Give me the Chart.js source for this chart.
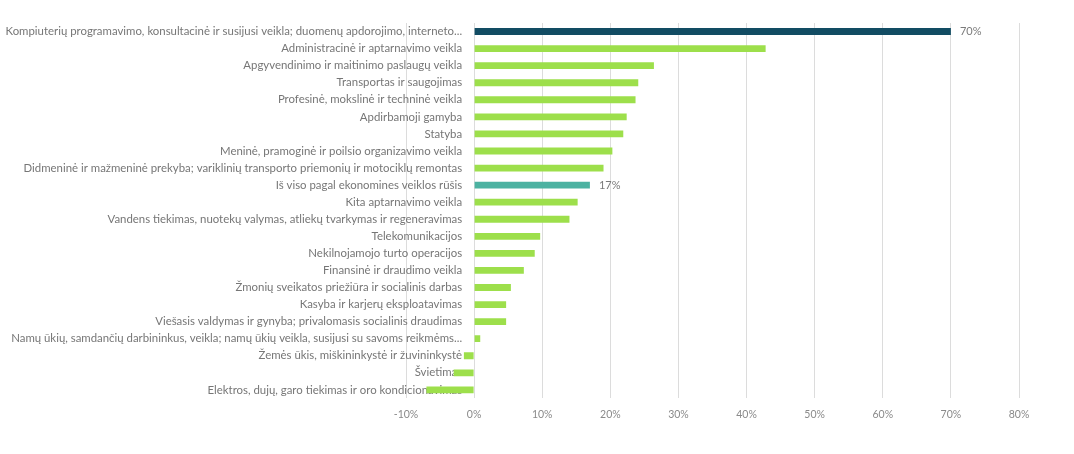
<!DOCTYPE html>
<html>
<head>
<meta charset="utf-8">
<script src="https://cdn.jsdelivr.net/npm/chart.js@4"></script>
<style>
  body{ margin:0; background:#fff; }
</style>
</head>
<body>
<canvas id="myChart" width="1074" height="454"></canvas>
<script>
// veiklos rūšys (iš viršaus į apačią)
const labels = [
  'Kompiuterių programavimo, konsultacinė ir susijusi veikla; duomenų apdorojimo, interneto...',
  'Administracinė ir aptarnavimo veikla',
  'Apgyvendinimo ir maitinimo paslaugų veikla',
  'Transportas ir saugojimas',
  'Profesinė, mokslinė ir techninė veikla',
  'Apdirbamoji gamyba',
  'Statyba',
  'Meninė, pramoginė ir poilsio organizavimo veikla',
  'Didmeninė ir mažmeninė prekyba; variklinių transporto priemonių ir motociklų remontas',
  'Iš viso pagal ekonomines veiklos rūšis',
  'Kita aptarnavimo veikla',
  'Vandens tiekimas, nuotekų valymas, atliekų tvarkymas ir regeneravimas',
  'Telekomunikacijos',
  'Nekilnojamojo turto operacijos',
  'Finansinė ir draudimo veikla',
  'Žmonių sveikatos priežiūra ir socialinis darbas',
  'Kasyba ir karjerų eksploatavimas',
  'Viešasis valdymas ir gynyba; privalomasis socialinis draudimas',
  'Namų ūkių, samdančių darbininkus, veikla; namų ūkių veikla, susijusi su savoms reikmėms...',
  'Žemės ūkis, miškininkystė ir žuvininkystė',
  'Švietimas',
  'Elektros, dujų, garo tiekimas ir oro kondicionavimas'
];

// pokytis, %
const values = [70, 42.8, 26.4, 24.1, 23.7, 22.4, 21.9, 20.3, 19.0, 17, 15.2, 14.0, 9.7, 8.9, 7.3, 5.4, 4.7, 4.7, 0.9, -1.5, -3.0, -7.0];

// x ašies ribos
const xMin = -10;
const xMax = 80;
const xStep = 10;

// kurios eilutės gauna reikšmės užrašą
const labelledRows = [0, 9];

const ctx = document.getElementById('myChart');

function barColor(i){
  if(i === 0) return '#124c63';
  if(labels[i].startsWith('Iš viso')) return '#4cb2a1';
  return '#9ddf4b';
}

// kategorijų pavadinimai prie 0 ašies (po stulpeliais)
const sideLabels = {
  id: 'sideLabels',
  beforeDatasetsDraw(chart){
    const c = chart.ctx;
    const x = chart.scales.x, y = chart.scales.y;
    const x0 = x.getPixelForValue(0) - 12;
    c.save();
    c.font = '11.4px Lato';
    c.fillStyle = '#767676';
    c.textAlign = 'right';
    c.textBaseline = 'middle';
    labels.forEach((t, i) => c.fillText(t, x0, y.getPixelForValue(i)));
    c.restore();
  }
};

// 70% / 17% užrašai
const valueLabels = {
  id: 'valueLabels',
  afterDatasetsDraw(chart){
    const c = chart.ctx;
    const meta = chart.getDatasetMeta(0);
    c.save();
    c.font = '11px Lato';
    c.fillStyle = '#7a7a7a';
    c.textAlign = 'left';
    c.textBaseline = 'middle';
    labelledRows.forEach(i => {
      const bar = meta.data[i];
      c.fillText(Math.round(values[i]) + '%', bar.x + 9, bar.y);
    });
    c.restore();
  }
};

new Chart(ctx, {
  type: 'bar',
  data: {
    labels: labels,
    datasets: [{
      data: values,
      backgroundColor: values.map((v, i) => barColor(i)),
      borderWidth: 0,
      barPercentage: 0.4,
      categoryPercentage: 1
    }]
  },
  options: {
    indexAxis: 'y',
    responsive: false,
    animation: false,
    layout: { padding: { left: 406, right: 55, top: 23, bottom: 23 } },
    plugins: {
      legend: { display: false },
      tooltip: { enabled: false }
    },
    scales: {
      x: {
        min: xMin,
        max: xMax,
        ticks: {
          stepSize: xStep,
          callback: v => v + '%',
          color: '#8a8a8a',
          font: { family: 'Lato', size: 10.5 },
          padding: 10
        },
        grid: { color: '#dcdcdc', drawTicks: false },
        border: { display: false }
      },
      y: { display: false }
    }
  },
  plugins: [sideLabels, valueLabels]
});
</script>
</body>
</html>
